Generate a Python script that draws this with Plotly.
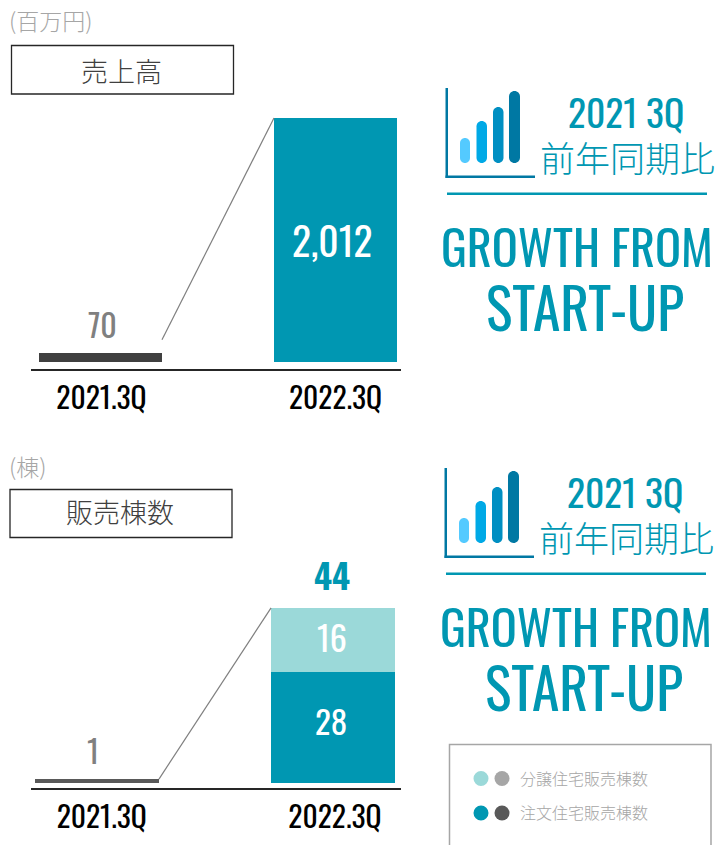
import plotly.graph_objects as go

W, H = 718, 845
periods = ["2021.3Q", "2022.3Q"]
sales = [70, 2012]
sales_labels = ["70", "2,012"]
custom_units = [1, 28]
sold_units = [0, 16]
unit_totals = [1, 44]
legend_labels = ["分譲住宅販売棟数", "注文住宅販売棟数"]

TEAL = "#0097B2"
LIGHT = "#9BD9D9"
DARK = "#404040"
DARK2 = "#595959"
GRAY = "#808080"
ICON = "#0078A3"
TITLE = "#0097B2"
CJK = "Noto Sans CJK JP"
COND = "Oswald, Roboto Condensed"

def px(x): return x / W
def py(y): return 1 - y / H

fig = go.Figure()

# chart 1
fig.add_bar(x=[0, 1], y=sales, width=0.523, marker=dict(color=[DARK, TEAL], line_width=0),
            xaxis="x", yaxis="y", showlegend=False, hoverinfo="skip")
fig.add_scatter(x=[0.2617, 0.7383], y=[sales[0] + 110, sales[1]], mode="lines",
                line=dict(color="#7F7F7F", width=1.2), xaxis="x", yaxis="y",
                showlegend=False, hoverinfo="skip")
# chart 2
fig.add_bar(x=[0, 1], y=custom_units, width=0.525, marker=dict(color=[DARK2, TEAL], line_width=0),
            xaxis="x2", yaxis="y2", showlegend=False, hoverinfo="skip")
fig.add_bar(x=[0, 1], y=sold_units, width=0.525, marker=dict(color=[LIGHT, LIGHT], line_width=0),
            xaxis="x2", yaxis="y2", showlegend=False, hoverinfo="skip")
fig.add_scatter(x=[0.2625, 0.7375], y=[custom_units[0], unit_totals[1]], mode="lines",
                line=dict(color="#7F7F7F", width=1.2), xaxis="x2", yaxis="y2",
                showlegend=False, hoverinfo="skip")

def ann(x, y, text, size, color, family=COND, weight=None, xanchor="center"):
    f = dict(size=size, color=color, family=family)
    if weight:
        f["weight"] = weight
    fig.add_annotation(x=px(x), y=py(y), xref="paper", yref="paper", text=text, showarrow=False,
                       font=f, xanchor=xanchor, yanchor="middle")

def rect(x0, y0, x1, y1, color=None, line=None, lw=1):
    fig.add_shape(type="rect", xref="paper", yref="paper", x0=px(x0), x1=px(x1), y0=py(y0), y1=py(y1),
                  fillcolor=color or "rgba(0,0,0,0)",
                  line=dict(color=line or "rgba(0,0,0,0)", width=lw if line else 0))

def pill(x0, y0, x1, y1, color):
    r = (x1 - x0) / 2
    k = 0.55 * r
    pts = [("M", x0, y0 + r),
           ("C", x0, y0 + r - k, x0 + r - k, y0, x0 + r, y0, x1 - r + k, y0, x1, y0 + r - k, x1, y0 + r),
           ("L", x1, y1 - r),
           ("C", x1, y1 - r + k, x1 - r + k, y1, x1 - r, y1, x0 + r - k, y1, x0, y1 - r + k, x0, y1 - r)]
    d = ""
    for p in pts:
        c = p[0]; vals = p[1:]
        coords = []
        for i in range(0, len(vals), 2):
            coords.append(f"{px(vals[i]):.5f},{py(vals[i+1]):.5f}")
        if c == "C":
            d += "C" + " ".join(coords[:3]) + " C" + " ".join(coords[3:]) + " "
        else:
            d += c + coords[0] + " "
    d += "Z"
    fig.add_shape(type="path", xref="paper", yref="paper", path=d, fillcolor=color, line_width=0)

def panel(dx, dy):
    # icon
    rect(445.5 + dx, 88 + dy, 448 + dx, 178 + dy, ICON)
    rect(445.5 + dx, 175.5 + dy, 535 + dx, 178 + dy, ICON)
    pill(460 + dx, 138 + dy, 470 + dx, 163 + dy, "#54CAFF")
    pill(476.5 + dx, 121 + dy, 487 + dx, 163 + dy, "#00A9E6")
    pill(493 + dx, 107 + dy, 503.5 + dx, 163 + dy, "#008FC2")
    pill(509 + dx, 91 + dy, 520 + dx, 163 + dy, ICON)
    ann(626 + dx, 111 + dy, "2021 3Q", 37.5, TITLE)
    ann(627.5 + dx, 156 + dy, "前年同期比", 35, TITLE, CJK, 300)
    rect(447 + dx, 192.5 + dy, 707 + dx, 195 + dy, TITLE)
    ann(577 + dx, 245 + dy, "GROWTH FROM", 48.3, TITLE)
    ann(585 + dx, 306 + dy, "START-UP", 55.5, TITLE)

panel(0, 0)
panel(-1, 380)

# unit notes and boxes
ann(7, 20, "(百万円)", 23, "#A6A6A6", CJK, 300, "left")
rect(11.5, 45.5, 233.5, 94, None, "#262626", 1.3)
ann(121, 71, "売上高", 27, "#404040", CJK, 300)
ann(7, 466, "(棟)", 23, "#A6A6A6", CJK, 300, "left")
rect(10, 489.5, 232, 537.5, None, "#262626", 1.3)
ann(120, 511.5, "販売棟数", 27, "#404040", CJK, 300)

# value labels
ann(102, 323.5, sales_labels[0], 32, GRAY)
ann(332, 239, sales_labels[1], 39.5, "#FFFFFF")
ann(93, 749, str(custom_units[0]), 32, GRAY)
ann(332, 574, str(unit_totals[1]), 34.5, TITLE, weight=700)
ann(332, 636, str(sold_units[1]), 34, "#FFFFFF")
ann(331, 720, str(custom_units[1]), 33, "#FFFFFF")

# legend box
fig.add_shape(type="path", xref="paper", yref="paper",
              path=f"M{px(449.5):.5f},{py(845):.5f} L{px(449.5):.5f},{py(744.5):.5f} L{px(711):.5f},{py(744.5):.5f} L{px(711):.5f},{py(845):.5f}",
              line=dict(color="#A6A6A6", width=1.5))
for yy, cols, t in [(778.5, (LIGHT, "#A6A6A6"), legend_labels[0]), (813, (TEAL, DARK2), legend_labels[1])]:
    for cx, c in zip((481, 502), cols):
        fig.add_shape(type="circle", xref="paper", yref="paper", x0=px(cx - 7.5), x1=px(cx + 7.5),
                      y0=py(yy + 7.5), y1=py(yy - 7.5), fillcolor=c, line_width=0)
    ann(518, yy - 1, t, 16, "#A6A6A6", CJK, 300, "left")

tick_font = dict(size=29.5, color="#000000", family=COND)
def x_ax(d0, d1, rng, anchor, ticks):
    return dict(domain=[px(d0), px(d1)], range=rng, anchor=anchor, showgrid=False, zeroline=False,
                showline=True, linecolor="#262626", linewidth=1.5, ticks="", tickmode="array",
                tickvals=ticks, ticktext=periods, tickfont=tick_font, fixedrange=True, ticklabelstandoff=3)
def y_ax(d0, d1, rng, anchor):
    return dict(domain=[py(d1), py(d0)], range=rng, anchor=anchor, showgrid=False, zeroline=False,
                showline=False, showticklabels=False, ticks="", fixedrange=True)

fig.update_layout(
    width=W, height=H, margin=dict(l=0, r=0, t=0, b=0), autosize=False,
    paper_bgcolor="#FFFFFF", plot_bgcolor="rgba(0,0,0,0)", barmode="stack", showlegend=False,
    font=dict(family=COND),
    xaxis=x_ax(31, 401, [-0.2957, 1.2787], "y", [0.004, 1]),
    yaxis=y_ax(100, 369, [-62, 2012 + 18 * 2012 / 244], "x"),
    xaxis2=x_ax(31, 401, [-0.2797, 1.2881], "y2", [0.02, 1.008]),
    yaxis2=y_ax(590, 788, [-1.25, 48.5], "x2"),
)
fig.write_html("out.html", config={"displayModeBar": False},
               post_script="document.body.style.margin='0';")
